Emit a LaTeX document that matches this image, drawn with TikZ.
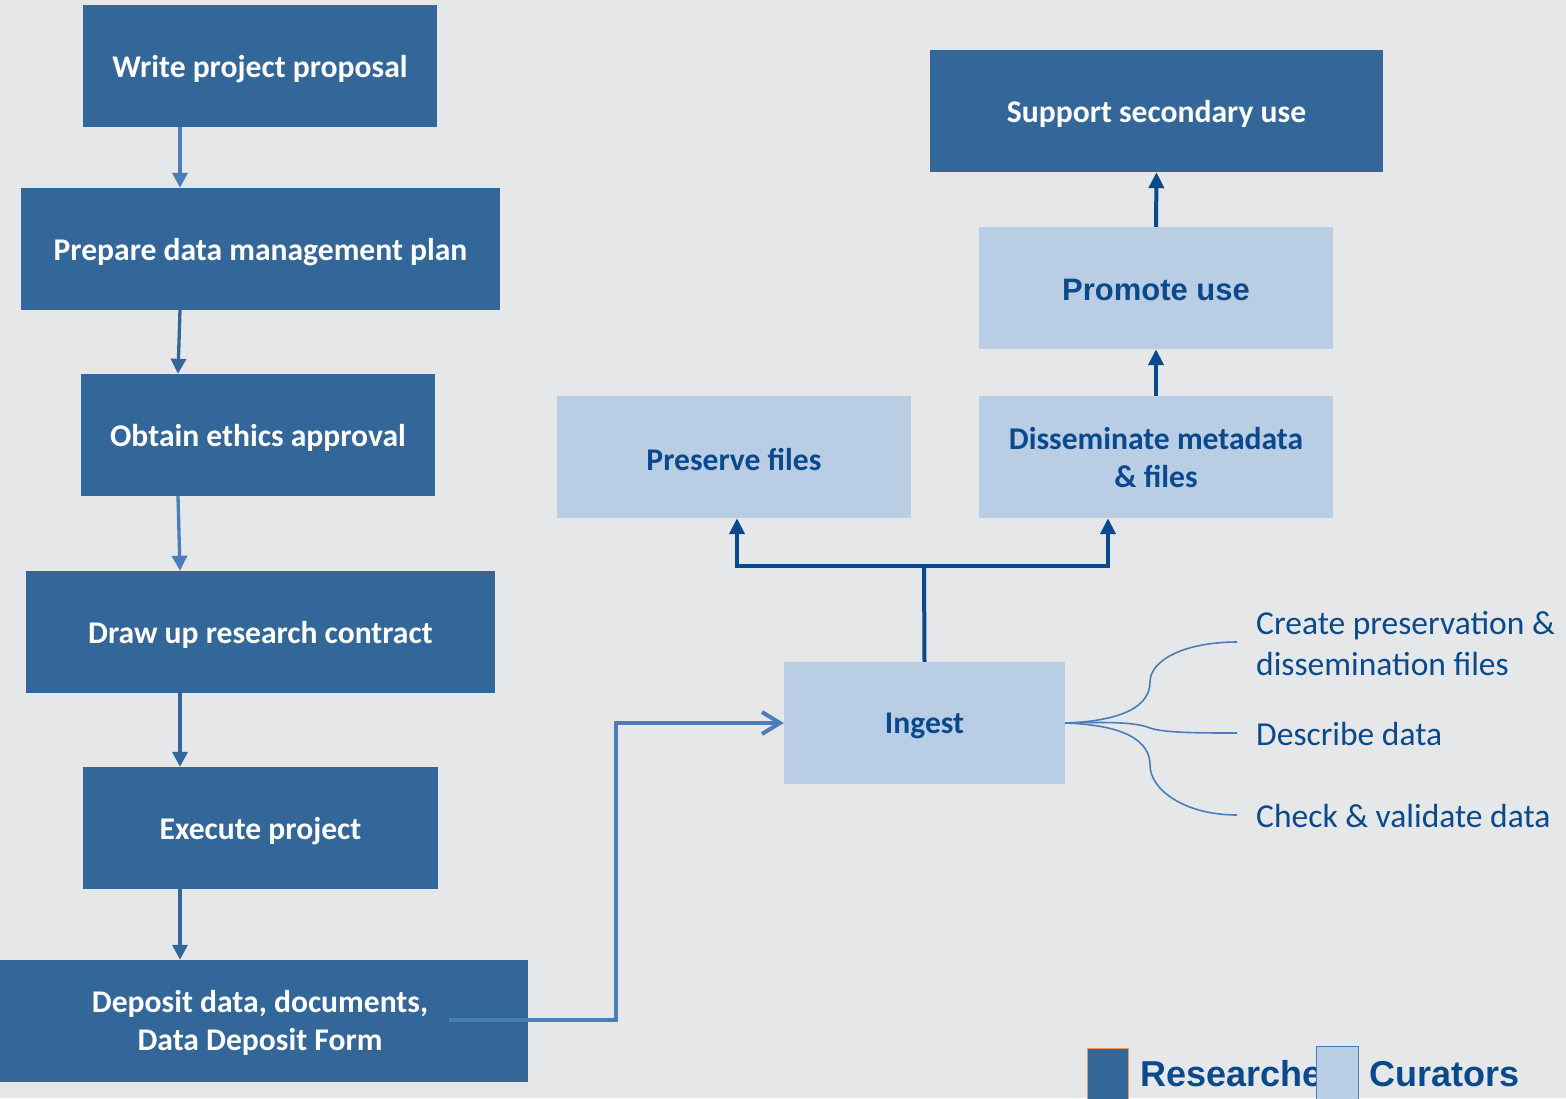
\documentclass[tikz,border=0pt]{standalone}
\usepackage{fontspec}
\setmainfont{Carlito}
\newfontfamily\arialf{Liberation Sans}
\usetikzlibrary{arrows.meta,calc}
\definecolor{bg}{HTML}{E5E7E9}
\definecolor{dbox}{HTML}{336799}
\definecolor{lbox}{HTML}{B9CDE5}
\definecolor{dtext}{HTML}{0A4A8C}
\definecolor{larr}{HTML}{4A7EBB}
\definecolor{darr}{HTML}{0A4A8C}
\definecolor{legor}{HTML}{E9966A}
\tikzset{
  resbox/.style={fill=dbox, inner sep=0pt, minimum height=122pt},
  curbox/.style={fill=lbox, inner sep=0pt, minimum height=122pt},
  restxt/.style={text=white, inner sep=0pt, align=center, yshift=-3pt,
    font=\fontsize{31.6}{38}\selectfont\bfseries},
  curtxt/.style={text=dtext, inner sep=0pt, align=center, yshift=-2pt,
    font=\fontsize{31.6}{38}\selectfont\bfseries},
  larrow/.style={draw=larr, line width=3.3pt, -{Triangle[length=15pt,width=15pt]}},
  darrow/.style={draw=darr, line width=4pt, -{Triangle[length=16pt,width=15pt]}},
  branch/.style={draw=larr, line width=1.6pt},
  sidetext/.style={text=dtext, anchor=base west, inner sep=0pt, align=left,
    font=\fontsize{33.5}{41}\selectfont},
  legtext/.style={text=dtext, anchor=base west, inner sep=0pt,
    font=\fontsize{36}{40}\selectfont\arialf\bfseries}
}
\begin{document}
\begin{tikzpicture}[x=1pt,y=-1pt]
\path[use as bounding box, fill=bg] (0,0) rectangle (1566,1098);
\clip (0,0) rectangle (1566,1098);

% researcher boxes
\node[resbox, minimum width=354pt, label={[restxt]center:Write project proposal}] (w) at (260,66) {};
\node[resbox, minimum width=479pt, label={[restxt]center:Prepare data management plan}] (p) at (260.5,249) {};
\node[resbox, minimum width=354pt, label={[restxt]center:Obtain ethics approval}] (o) at (258,435) {};
\node[resbox, minimum width=469pt, label={[restxt]center:Draw up research contract}] (d) at (260.5,632) {};
\node[resbox, minimum width=355pt, label={[restxt]center:Execute project}] (e) at (260.5,828) {};
\node[resbox, minimum width=528pt, label={[restxt, xshift=-4pt, yshift=1pt]center:{Deposit data, documents,\\Data Deposit Form}}] (dep) at (264,1021) {};
\node[resbox, minimum width=453pt, label={[restxt]center:Support secondary use}] (s) at (1156.5,111) {};

% curator boxes
\node[curbox, minimum width=354pt, label={[curtxt, font=\fontsize{31}{38}\selectfont\arialf\bfseries]center:Promote use}] (pr) at (1156,288) {};
\node[curbox, minimum width=354pt, label={[curtxt, yshift=1pt]center:{Disseminate metadata\\\& files}}] (dis) at (1156,457) {};
\node[curbox, minimum width=354pt, label={[curtxt]center:Preserve files}] (pf) at (734,457) {};
\node[curbox, minimum width=281pt, label={[curtxt, yshift=-1pt]center:Ingest}] (ing) at (924.5,723) {};

% left chain arrows
\draw[larrow] (w.south -| 180,0) -- (p.north -| 180,0);
\draw[larrow, draw=dbox] (p.south -| 180,0) -- (o.north -| 178,0);
\draw[larrow] (o.south -| 178,0) -- (d.north -| 180,0);
\draw[larrow, draw=dbox] (d.south -| 180,0) -- (e.north -| 180,0);
\draw[larrow, draw=dbox] (e.south -| 180,0) -- (dep.north -| 180,0);

% deposit to ingest
\coordinate (depstart) at (449,1020);
\draw[draw=larr, line width=3.6pt, -{Straight Barb[length=18pt,width=22pt,line width=4pt]}]
  (depstart) -- (616,1020) -- (616,723) -- (ing.west);

% ingest to preserve / disseminate
\coordinate (jn) at (924,566);
\draw[draw=darr, line width=4pt] (ing.north) -- (jn);
\draw[darrow] (jn) -- (737,566) -- (pf.south -| 737,0);
\draw[darrow] (jn) -- (1108,566) -- (dis.south -| 1108,0);

% up chain
\draw[darrow] (dis.north) -- (pr.south);
\draw[darrow] (pr.north) -- (s.south);

% branches
\coordinate (b1) at (1237,642);
\coordinate (b2) at (1237,733);
\coordinate (b3) at (1237,815);
\draw[branch] (ing.east) .. controls (1125,721) and (1150,705) .. (1150,682)
  .. controls (1150,660) and (1185,642) .. (b1);
\draw[branch] (ing.east) .. controls (1110,722) and (1135,722) .. (1150,728)
  .. controls (1165,733) and (1200,733) .. (b2);
\draw[branch] (ing.east) .. controls (1125,725) and (1150,741) .. (1150,765)
  .. controls (1150,790) and (1185,815) .. (b3);

\node[sidetext] (t1) at (1256,675) {Create preservation \&\\dissemination files};
\node[sidetext] (t2) at (1256,745) {Describe data};
\node[sidetext] (t3) at (1256,827) {Check \& validate data};

% legend
\node[fill=dbox, draw=legor, line width=1pt, minimum width=41pt, minimum height=60pt, inner sep=0pt] (lr) at (1107.5,1078) {};
\node[legtext] (lrt) at (1140,1086) {Researchers};
\node[fill=lbox, draw=larr, line width=1pt, minimum width=42pt, minimum height=62pt, inner sep=0pt] (lc) at (1337.5,1077) {};
\node[legtext] (lct) at (1369,1086) {Curators};
\end{tikzpicture}
\end{document}
